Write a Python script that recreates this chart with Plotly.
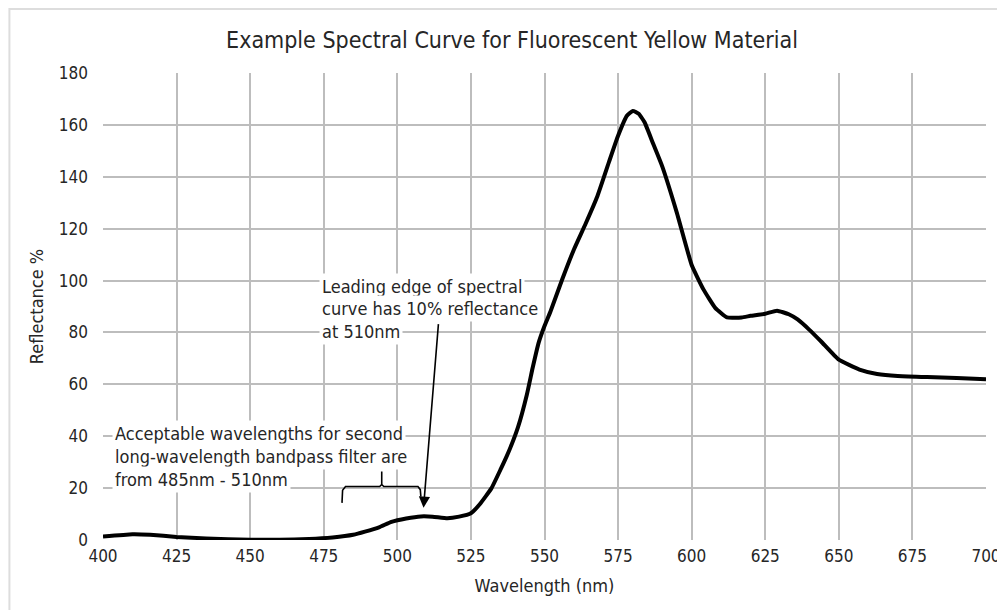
import plotly.graph_objects as go

# ---- data ----
wavelength = [400, 410, 416, 425, 435, 450, 460, 470, 478, 485, 489, 494, 498, 503, 508,
              512, 517, 521, 525, 528, 532, 535, 538, 541, 544, 546, 548, 550, 552, 556,
              560, 564, 568, 572, 575, 578, 580, 582, 584, 587, 590, 595, 600, 604, 608,
              612, 617, 620, 625, 629, 633, 636, 640, 644, 650, 657, 663, 670, 680, 690, 700]
reflectance = [1.3, 2.2, 2.0, 1.2, 0.6, 0.1, 0.1, 0.4, 1.0, 2.0, 3.2, 5.0, 7.0, 8.3, 9.1,
               9.0, 8.4, 9.0, 10.3, 13.8, 20, 27, 34.5, 43.5, 56, 66.5, 76, 82.5, 88, 100.4,
               112, 122, 132.6, 146, 155.8, 163.5, 165.4, 164.3, 161, 152.5, 144, 126, 106, 96.6, 89.5,
               85.8, 85.8, 86.4, 87.2, 88.4, 87, 85, 81, 76.5, 69.5, 65.7, 64, 63.2, 62.8, 62.4, 62]

x_ticks = [400, 425, 450, 475, 500, 525, 550, 575, 600, 625, 650, 675, 700]
y_ticks = [0, 20, 40, 60, 80, 100, 120, 140, 160, 180]

bracket_x = [481.2, 481.4, 482.4, 494.0, 494.7, 494.7, 494.7, 495.4, 507.0, 507.8, 508.0]
bracket_y = [14.3, 19.2, 20.6, 20.6, 21.4, 26.4, 21.4, 20.6, 20.6, 19.4, 16.7]

note1_lines = ["Leading edge of spectral", "curve has 10% reflectance", "at 510nm"]
note2_lines = ["Acceptable wavelengths for second", "long-wavelength bandpass filter are",
               "from 485nm - 510nm"]

FONT = "DejaVu Sans Condensed, DejaVu Sans, sans-serif"
TXT = "#262626"
GRID = "#bdbdbd"

fig = go.Figure()
fig.add_trace(go.Scatter(x=wavelength, y=reflectance, mode="lines",
                         line=dict(color="#000000", width=4, shape="spline", smoothing=0.4),
                         hoverinfo="x+y", showlegend=False))
fig.add_trace(go.Scatter(x=bracket_x, y=bracket_y, mode="lines",
                         line=dict(color="#000000", width=1.6), hoverinfo="skip",
                         showlegend=False))

anns = []
for txt, yv in zip(note1_lines, [97.8, 89.1, 80.5]):
    anns.append(dict(x=473.4, y=yv, xref="x", yref="y", text=txt, showarrow=False,
                     xanchor="left", yanchor="middle", bgcolor="white", borderpad=2,
                     font=dict(family=FONT, size=18, color=TXT)))
for txt, yv in zip(note2_lines, [41.2, 32.2, 23.2]):
    anns.append(dict(x=403.1, y=yv, xref="x", yref="y", text=txt, showarrow=False,
                     xanchor="left", yanchor="middle", bgcolor="white", borderpad=2,
                     font=dict(family=FONT, size=18, color=TXT)))
anns.append(dict(x=508.9, y=12.4, xref="x", yref="y", ax=514.0, ay=83.8, axref="x", ayref="y",
                 text="", showarrow=True, arrowhead=2, arrowsize=1.4, arrowwidth=1.6,
                 arrowcolor="#000000"))

# page offsets the figure by ~8px; margins compensate so plot lands at x 103-990, y 73-540
fig.update_layout(
    width=1005, height=610,
    margin=dict(l=95, r=23, t=65, b=78),
    paper_bgcolor="white", plot_bgcolor="white",
    title=dict(text="Example Spectral Curve for Fluorescent Yellow Material",
               x=(512 - 8) / 1005, xanchor="center", y=1 - 32 / 610, yanchor="middle",
               font=dict(family=FONT, size=23, color=TXT)),
    xaxis=dict(range=[400, 700], tickvals=x_ticks, ticktext=[str(v) for v in x_ticks],
               showgrid=True, gridcolor=GRID, gridwidth=2, zeroline=False,
               showline=False, ticks="", ticklabelstandoff=4,
               tickfont=dict(family=FONT, size=17, color=TXT),
               title=dict(text="Wavelength (nm)", standoff=14,
                          font=dict(family=FONT, size=18, color=TXT))),
    yaxis=dict(range=[0, 180], tickvals=y_ticks, ticktext=[str(v) for v in y_ticks],
               showgrid=True, gridcolor=GRID, gridwidth=2, zeroline=False,
               showline=False, ticks="", ticklabelstandoff=14,
               tickfont=dict(family=FONT, size=17, color=TXT),
               title=dict(text="Reflectance %", standoff=10,
                          font=dict(family=FONT, size=18, color=TXT))),
    annotations=anns,
    shapes=[dict(type="rect", xref="paper", yref="paper",
                 x0=-94 / 887, x1=1.05, y0=-0.3, y1=1 + 64 / 467,
                 line=dict(color="#dddddd", width=2), layer="below")],
)

fig.write_html("out.html")
